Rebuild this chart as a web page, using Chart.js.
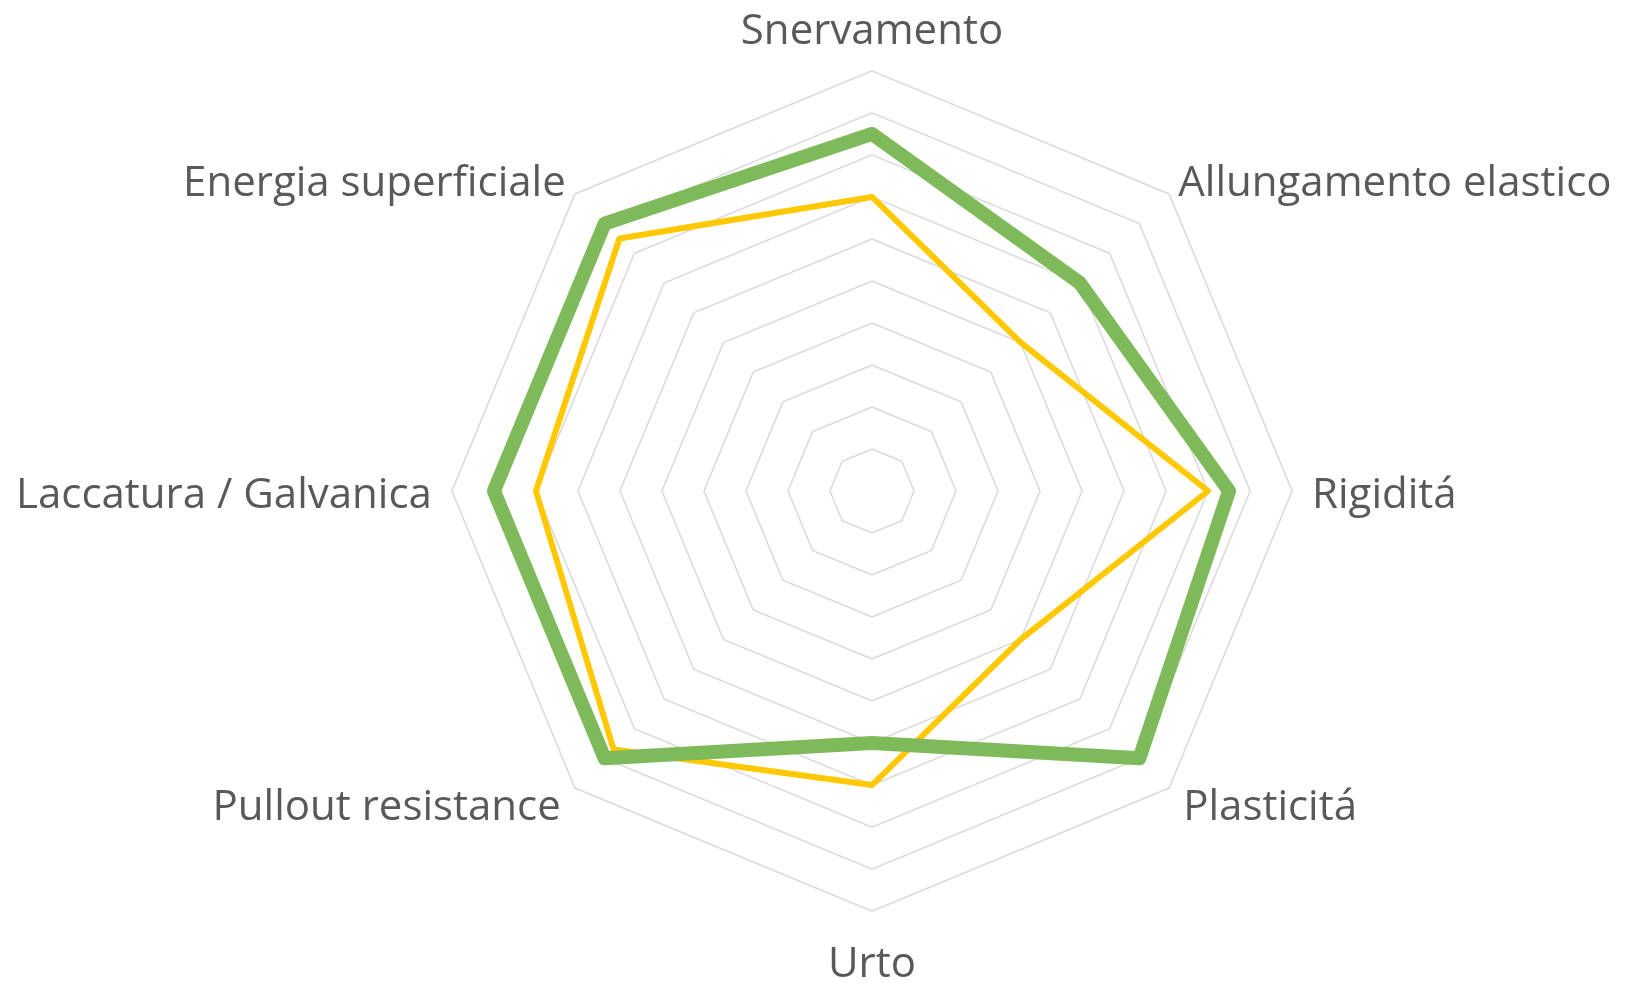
<!DOCTYPE html>
<html>
<head>
<meta charset="utf-8">
<script src="https://cdn.jsdelivr.net/npm/chart.js@4/dist/chart.umd.min.js"></script>
<style>
  html, body { margin: 0; padding: 0; background: #fff; overflow: hidden; }
  /* the canvas is wider than the window so the long side labels do not
     force Chart.js to shrink the radar */
  #wrap { position: absolute; left: -78px; top: -1px; width: 1900px; height: 992px; }
</style>
</head>
<body>
<div id="wrap"><canvas id="radar"></canvas></div>
<script>
var categories = ['Snervamento', 'Allungamento elastico', 'Rigiditá', 'Plasticitá',
    'Urto', 'Pullout resistance', 'Laccatura / Galvanica', 'Energia superficiale'];
var greenValues = [8.5, 7, 8.5, 9, 6, 9, 9, 9];
var yellowValues = [7, 5, 8, 5, 7, 8.7, 8, 8.5];
var scaleMin = 0;
var scaleMax = 10;
var scaleStep = 1;

var greenColor = '#7FBA5A';
var yellowColor = '#FFC800';
var gridColor = '#D9D9D9';
var labelColor = '#595959';

// side labels get an empty first line so the text sits a little lower
var pointLabels = categories.map(function(c, i) {
    return (i === 2 || i === 6) ? ['', c] : c;
});

// per-label spacing and line box, tuned so each label sits where the
// original puts it (diagonal ones roughly centred on their spoke)
var labelPad = [8.5, 13, 20, 20, 31.5, 20, 20, 13];
var labelLine = ['61.4px', '2px', '10px', '12px', '44.4px', '12px', '10px', '2px'];

new Chart(document.getElementById('radar').getContext('2d'), {
    type: 'radar',
    data: {
        labels: pointLabels,
        datasets: [{
            // green first so it is painted over the yellow line
            data: greenValues,
            borderColor: greenColor,
            backgroundColor: 'transparent',
            borderWidth: 14,
            borderJoinStyle: 'round',
            pointRadius: 0,
            fill: false
        }, {
            data: yellowValues,
            borderColor: yellowColor,
            backgroundColor: 'transparent',
            borderWidth: 6,
            borderJoinStyle: 'round',
            pointRadius: 0,
            fill: false
        }]
    },
    options: {
        responsive: true,
        maintainAspectRatio: false,
        animation: false,
        plugins: {
            legend: { display: false },
            tooltip: { enabled: false }
        },
        elements: { line: { tension: 0 } },
        scales: {
            r: {
                min: scaleMin,
                max: scaleMax,
                ticks: { stepSize: scaleStep, display: false },
                angleLines: { display: false },
                grid: { color: gridColor, lineWidth: 1.5 },
                pointLabels: {
                    color: labelColor,
                    padding: function(ctx) { return labelPad[ctx.index]; },
                    font: function(ctx) {
                        return { family: 'Open Sans', size: 42, lineHeight: labelLine[ctx.index] };
                    }
                }
            }
        }
    }
});
</script>
</body>
</html>
